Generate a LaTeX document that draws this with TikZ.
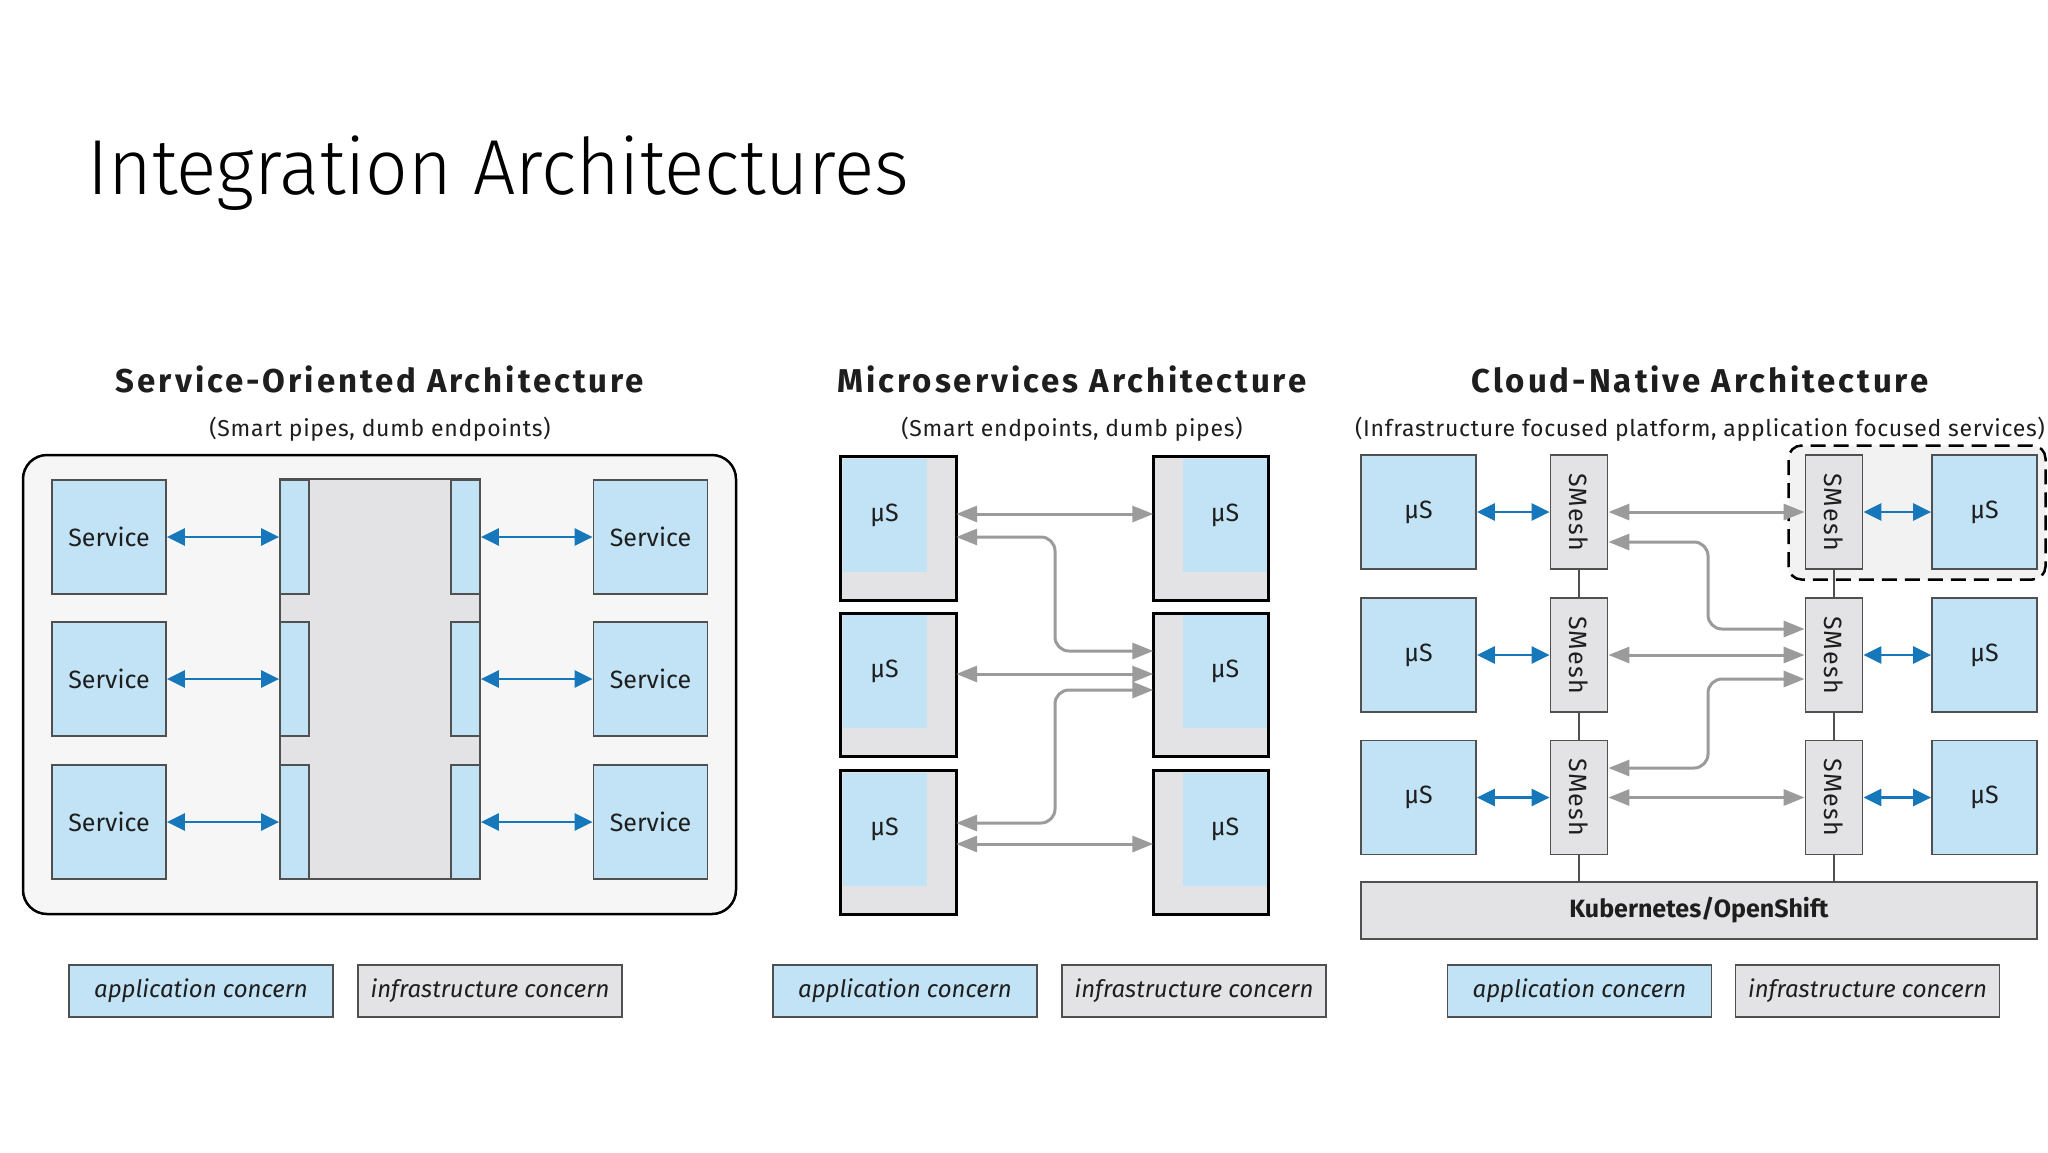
\documentclass[tikz,border=0pt]{standalone}
\usepackage{fontspec}
\setmainfont{Fira Sans}
\newfontfamily\titlefont{Fira Sans Light}
\newfontfamily\secfont{Fira Sans}[LetterSpace=9]
\newfontfamily\subfont{Fira Sans}[LetterSpace=3]
\newfontfamily\smfont{Fira Sans}[LetterSpace=5]
\usetikzlibrary{arrows.meta}
\definecolor{appblue}{RGB}{193,227,245}
\definecolor{infragray}{RGB}{227,227,229}
\definecolor{soabg}{RGB}{246,246,246}
\definecolor{arrowblue}{RGB}{22,119,186}
\definecolor{arrowgray}{RGB}{155,155,155}
\definecolor{bordergray}{RGB}{80,80,80}
\definecolor{dashbg}{RGB}{242,242,242}
\definecolor{textdark}{RGB}{30,30,30}
\begin{document}
\begin{tikzpicture}[x=1pt,y=-1pt,
  box/.style={draw=bordergray, line width=1.8pt, inner sep=0pt, text=textdark, font=\fontsize{25}{30}\selectfont},
  app/.style={box, fill=appblue},
  infra/.style={box, fill=infragray},
  legend/.style={box, minimum width=264pt, minimum height=52pt, font=\itshape\fontsize{24}{28}\selectfont},
  sectitle/.style={anchor=base, inner sep=0pt, text=textdark, font=\secfont\bfseries\fontsize{33}{40}\selectfont},
  subtitle/.style={anchor=base, inner sep=0pt, text=textdark, font=\subfont\fontsize{23}{27}\selectfont},
  barrow/.style={arrowblue, line width=2.5pt, {Triangle[length=18pt,width=17pt]}-{Triangle[length=18pt,width=17pt]}},
  garrow/.style={arrowgray, line width=3pt, rounded corners=14pt, {Triangle[length=21pt,width=16pt]}-{Triangle[length=21pt,width=16pt]}},
  msbox/.style={fill=infragray, inner sep=0pt, minimum width=115pt, minimum height=143pt},
  msframe/.style={draw=black, line width=3pt},
  msin/.style={fill=appblue, inner sep=0pt, minimum width=84pt, minimum height=113pt, text=textdark, font=\fontsize{25}{30}\selectfont},
  svc/.style={app, minimum width=114pt, minimum height=114pt},
  adp/.style={app, minimum width=29pt, minimum height=114pt},
  cus/.style={app, minimum height=114pt},
  smesh/.style={infra, minimum width=57pt, minimum height=114pt, font=\smfont\fontsize{25}{30}\selectfont},
  conn/.style={draw=bordergray, line width=1.5pt}
]
\useasboundingbox[fill=white] (0,0) rectangle (2048,1152);

% main title
\node[anchor=base west, inner sep=0pt, font=\titlefont\fontsize{78}{90}\selectfont] (title) at (87,194) {\scalebox{0.96}[1]{Integration Architectures}};

% ================= SOA =================
\node[sectitle] (soat) at (380,392) {Service-Oriented Architecture};
\node[subtitle] (soas) at (380,436) {(Smart pipes, dumb endpoints)};
\node[draw=black, line width=2.5pt, fill=soabg, rounded corners=24pt, minimum width=713pt, minimum height=459pt, inner sep=0pt] (soa) at (379.5,684.5) {};
\node[infra, minimum width=200pt, minimum height=400pt] (bus) at (380,679) {};
\foreach \i/\y in {1/537,2/679,3/822}{
  \node[svc] (sl\i) at (109,\y) {Service};
  \node[svc] (sr\i) at (650.5,\y) {Service};
  \node[adp] (al\i) at (294.5,\y) {};
  \node[adp] (ar\i) at (465.5,\y) {};
  \draw[barrow] (sl\i.east) -- (al\i.west);
  \draw[barrow] (ar\i.east) -- (sr\i.west);
}

% ================= Microservices =================
\node[sectitle] (mst) at (1072,392) {Microservices Architecture};
\node[subtitle] (mss) at (1072,436) {(Smart endpoints, dumb pipes)};
\foreach \i/\y in {1/528.5,2/685,3/842.5}{
  \node[msbox] (ml\i) at (898.5,\y) {};
  \node[msin, anchor=north west] (mli\i) at ([xshift=1.5pt,yshift=-1.5pt]ml\i.north west) {μS};
  \draw[msframe] (ml\i.north west) rectangle (ml\i.south east);
  \node[msbox] (mr\i) at (1211,\y) {};
  \node[msin, anchor=north east] (mri\i) at ([xshift=-1.5pt,yshift=-1.5pt]mr\i.north east) {μS};
  \draw[msframe] (mr\i.north west) rectangle (mr\i.south east);
}
\coordinate (mbx) at (1055,0);
\coordinate (me1) at ([yshift=34pt]mr2.west);
\coordinate (me2) at ([yshift=-5pt]mr2.west);
\draw[garrow] ([yshift=14.5pt]ml1.east) -- ([yshift=14.5pt]mr1.west);
\draw[garrow] ([yshift=-8.5pt]ml1.east) -| (mbx |- me1) -- (me1);
\draw[garrow] ([yshift=11pt]ml2.east) -- ([yshift=11pt]mr2.west);
\draw[garrow] ([yshift=19.5pt]ml3.east) -| (mbx |- me2) -- (me2);
\draw[garrow] ([yshift=-1.5pt]ml3.east) -- ([yshift=-1.5pt]mr3.west);

% ================= Cloud-Native =================
\node[sectitle] (cnt) at (1700,392) {Cloud-Native Architecture};
\node[subtitle] (cns) at (1700,436) {(Infrastructure focused platform, application focused services)};
\node[draw=black, line width=2.5pt, dash pattern=on 15pt off 8pt, fill=dashbg, rounded corners=13pt, minimum width=257pt, minimum height=134pt, inner sep=0pt] (dash) at (1917,512.5) {};
\node[infra, minimum width=676pt, minimum height=57pt, font=\bfseries\fontsize{25}{30}\selectfont] (k8s) at (1699,910.5) {Kubernetes/OpenShift};
\foreach \i/\y in {1/512,2/655,3/797.5}{
  \node[cus, minimum width=115pt] (cl\i) at (1418.5,\y) {μS};
  \node[smesh] (sml\i) at (1579,\y) {\rotatebox{-90}{SMesh}};
  \node[smesh] (smr\i) at (1834,\y) {\rotatebox{-90}{SMesh}};
  \node[cus, minimum width=105pt] (cr\i) at (1984.5,\y) {μS};
  \draw[barrow] (cl\i.east) -- (sml\i.west);
  \draw[barrow] (smr\i.east) -- (cr\i.west);
  \draw[garrow] (sml\i.east) -- (smr\i.west);
}
\draw[conn] (sml1.south) -- (sml2.north) (sml2.south) -- (sml3.north) (sml3.south) -- (sml3.south |- k8s.north);
\draw[conn] (smr1.south) -- (smr2.north) (smr2.south) -- (smr3.north) (smr3.south) -- (smr3.south |- k8s.north);
\coordinate (cbx) at (1708,0);
\coordinate (ce1) at ([yshift=26pt]smr2.west);
\coordinate (ce2) at ([yshift=-24pt]smr2.west);
\draw[garrow] ([yshift=-30pt]sml1.east) -| (cbx |- ce1) -- (ce1);
\draw[garrow] ([yshift=29.5pt]sml3.east) -| (cbx |- ce2) -- (ce2);

% ================= Legends =================
\foreach \n/\x in {a/201,b/905,c/1579.5}{
  \node[legend, fill=appblue] (app\n) at (\x,991) {application concern};
}
\foreach \n/\x in {a/490,b/1194,c/1867.5}{
  \node[legend, fill=infragray] (inf\n) at (\x,991) {infrastructure concern};
}
\end{tikzpicture}
\end{document}
